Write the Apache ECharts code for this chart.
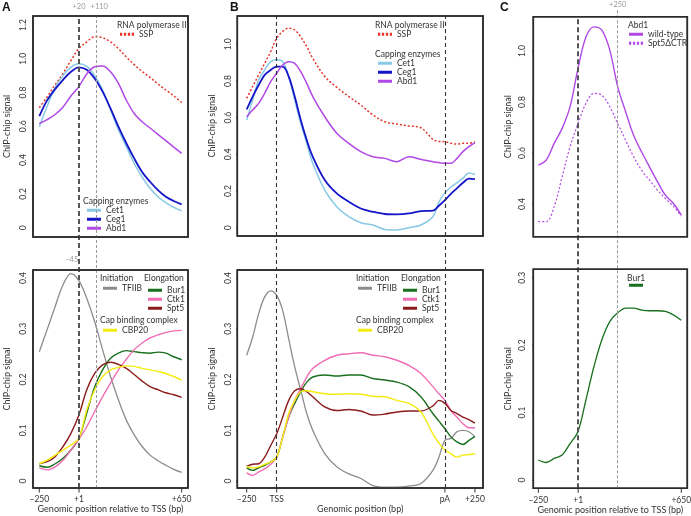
<!DOCTYPE html>
<html><head><meta charset="utf-8">
<script src="https://cdn.jsdelivr.net/npm/echarts@6/dist/echarts.min.js"></script>
<style>html,body{margin:0;padding:0;background:#fff}#c{width:691px;height:516px}</style>
</head><body><div id="c"></div>
<script>
// ---------- DATA ----------
// Panels A and C: position relative to TSS (bp)
const xA = [-250,-200,-150,-100,-50,0,50,100,150,200,250,300,350,400,450,500,550,600,650];
const xC = [-250,-200,-150,-100,-50,0,50,100,150,200,250,300,350,400,450,500,550,600,650];
// Panel B: scaled meta-gene position (TSS = 0, pA = 1400, +250 after pA = 1650)
const xB = [-250,-200,-150,-100,-50,0,50,100,150,200,250,300,400,500,600,700,800,900,1000,1100,1200,1300,1350,1400,1450,1500,1550,1600,1650];

// A top
const sspA  = [0.71,0.775,0.845,0.913,0.99,1.06,1.10,1.13,1.125,1.10,1.06,1.01,0.965,0.925,0.89,0.85,0.815,0.78,0.74];
const cet1A = [0.598,0.72,0.83,0.90,0.95,0.97,0.955,0.90,0.815,0.70,0.58,0.48,0.38,0.30,0.233,0.183,0.148,0.12,0.10];
const ceg1A = [0.66,0.755,0.82,0.875,0.923,0.949,0.935,0.883,0.805,0.706,0.598,0.50,0.41,0.33,0.272,0.223,0.183,0.158,0.138];
const abd1A = [0.617,0.64,0.67,0.715,0.78,0.835,0.91,0.953,0.957,0.923,0.854,0.755,0.676,0.627,0.59,0.552,0.515,0.477,0.44];
// A bottom
const tfiibA = [0.255,0.299,0.344,0.387,0.409,0.395,0.36,0.314,0.259,0.206,0.16,0.12,0.091,0.068,0.051,0.04,0.031,0.023,0.017];
const bur1A  = [0.030,0.027,0.034,0.045,0.061,0.084,0.134,0.186,0.219,0.242,0.252,0.257,0.255,0.253,0.252,0.254,0.252,0.245,0.239];
const ctk1A  = [0.026,0.022,0.028,0.041,0.061,0.082,0.107,0.137,0.166,0.193,0.219,0.24,0.259,0.272,0.282,0.288,0.293,0.296,0.297];
const spt5A  = [0.034,0.038,0.048,0.068,0.094,0.13,0.18,0.212,0.229,0.234,0.23,0.222,0.21,0.197,0.186,0.18,0.174,0.17,0.165];
const cbp20A = [0.034,0.041,0.051,0.061,0.071,0.084,0.14,0.18,0.206,0.219,0.224,0.227,0.226,0.222,0.219,0.216,0.212,0.206,0.199];
// B top
const sspB  = [0.705,0.77,0.833,0.896,0.96,1.033,1.07,1.088,1.078,1.04,0.987,0.924,0.824,0.765,0.715,0.669,0.615,0.578,0.565,0.555,0.545,0.482,0.47,0.469,0.46,0.456,0.46,0.46,0.469];
const cet1B = [0.587,0.696,0.805,0.86,0.905,0.915,0.905,0.824,0.696,0.569,0.46,0.351,0.205,0.115,0.06,0.027,0.015,-0.009,-0.012,0.0,0.015,0.06,0.14,0.19,0.222,0.245,0.27,0.298,0.29];
const ceg1B = [0.645,0.715,0.778,0.833,0.86,0.878,0.878,0.824,0.715,0.587,0.478,0.387,0.26,0.187,0.142,0.105,0.087,0.075,0.073,0.078,0.091,0.093,0.12,0.15,0.185,0.215,0.245,0.268,0.265];
const abd1B = [0.605,0.642,0.678,0.733,0.796,0.842,0.887,0.905,0.896,0.851,0.787,0.715,0.605,0.515,0.46,0.415,0.387,0.378,0.36,0.387,0.373,0.36,0.355,0.351,0.351,0.378,0.415,0.442,0.464];
// B bottom
const tfiibB = [0.248,0.284,0.33,0.363,0.375,0.366,0.336,0.28,0.225,0.179,0.133,0.1,0.054,0.028,0.014,0.005,-0.009,-0.012,-0.012,-0.01,-0.005,0.021,0.047,0.08,0.084,0.097,0.1,0.097,0.087];
const bur1B  = [0.026,0.021,0.026,0.031,0.0375,0.047,0.087,0.126,0.153,0.176,0.195,0.205,0.209,0.207,0.209,0.209,0.202,0.199,0.195,0.186,0.166,0.133,0.118,0.103,0.087,0.077,0.072,0.08,0.088];
const ctk1B  = [0.016,0.011,0.018,0.024,0.033,0.047,0.087,0.126,0.159,0.182,0.205,0.222,0.238,0.248,0.251,0.253,0.248,0.245,0.238,0.228,0.212,0.186,0.172,0.159,0.139,0.126,0.113,0.105,0.105];
const spt5B  = [0.029,0.033,0.034,0.047,0.07,0.093,0.126,0.159,0.178,0.182,0.176,0.166,0.146,0.139,0.141,0.138,0.13,0.132,0.136,0.138,0.138,0.148,0.159,0.153,0.139,0.133,0.126,0.121,0.114];
const cbp20B = [0.028,0.026,0.028,0.033,0.0375,0.047,0.087,0.133,0.159,0.176,0.178,0.176,0.172,0.171,0.172,0.171,0.167,0.166,0.159,0.153,0.136,0.093,0.075,0.061,0.054,0.047,0.051,0.052,0.054];
// C top (Abd1)
const wtC  = [0.553,0.573,0.638,0.697,0.782,0.932,1.055,1.095,1.082,1.004,0.86,0.762,0.67,0.605,0.546,0.488,0.435,0.403,0.357];
const ctrC = [0.331,0.331,0.39,0.507,0.625,0.716,0.795,0.834,0.827,0.782,0.716,0.65,0.586,0.533,0.494,0.455,0.422,0.392,0.353];
// C bottom (Bur1)
const bur1C = [0.0297,0.026,0.032,0.037,0.054,0.072,0.119,0.168,0.208,0.235,0.248,0.255,0.255,0.252,0.251,0.251,0.25,0.245,0.237];

// Tick values and labels
const xTicksAC = [-250, 1, 650];
const xTickLabelsAC = ['\u2013250', '+1', '+650'];
const xTicksB = [-250, 0, 1400, 1650];
const xTickLabelsB = ['\u2013250', 'TSS', 'pA', '+250'];
const yTicksAtop = [0, 0.2, 0.4, 0.6, 0.8, 1.0, 1.2];
const yTicksBtop = [0, 0.2, 0.4, 0.6, 0.8, 1.0];
const yTicksCtop = [0.4, 0.6, 0.8, 1.0];
const yTicksBottom = [0, 0.1, 0.2, 0.3, 0.4];
const yTicksCbottom = [0, 0.1, 0.2, 0.3];

// ---------- STYLE ----------
const FONT = "Lato,'Liberation Sans',Arial,sans-serif";
const FS = 8.5;
const TXT = '#333';
const FRAME = '#2b2b2b';
const COL = {SSP:'#e5352b', Cet1:'#88c9e6', Ceg1:'#1414c8', Abd1:'#b048e6', TFIIB:'#8c8c8c',
             Bur1:'#18701e', Ctk1:'#f06db4', Spt5:'#8c1b1b', CBP20:'#f4ec10'};

const chart = echarts.init(document.getElementById('c'), null, {renderer: 'canvas'});

const grids = [
  {left: 33,    top: 16,    width: 155, height: 221},   // 0 A top
  {left: 33,    top: 270,   width: 155, height: 218},   // 1 A bottom
  {left: 237.3, top: 16,    width: 245.7, height: 220}, // 2 B top
  {left: 237.3, top: 270,   width: 245.7, height: 218}, // 3 B bottom
  {left: 533.3, top: 16.7,  width: 154, height: 220},   // 4 C top
  {left: 533.3, top: 269.3, width: 154, height: 219},   // 5 C bottom
  {left: 33,    top: 16,    width: 155, height: 472},   // 6 A overlay
  {left: 237.3, top: 16,    width: 245.7, height: 472}, // 7 B overlay
  {left: 533.3, top: 10,    width: 154, height: 478.3}  // 8 C overlay
].map((g, i) => Object.assign({show: i < 6, borderColor: FRAME, borderWidth: 1.5,
  outerBoundsMode: 'none', containLabel: false}, g));

const xRange = {A: [-290, 690], B: [-328, 1717], C: [-281.5, 688]};
const yRange = [[-0.055, 1.253], [-0.0138, 0.416], [-0.045, 1.154], [-0.0138, 0.416], [0.272, 1.135], [-0.0123, 0.3125]];
const panelX = [xRange.A, xRange.A, xRange.B, xRange.B, xRange.C, xRange.C];
const panelYTicks = [yTicksAtop, yTicksBottom, yTicksBtop, yTicksBottom, yTicksCtop, yTicksCbottom];
const panelXTicks = [null, xTicksAC, null, xTicksB, null, xTicksAC];

function xAxisDef(gi, r, ticks, labels, name) {
  const show = !!ticks;
  return {
    type: 'value', gridIndex: gi, min: r[0], max: r[1], position: 'bottom',
    axisLine: {show: false, onZero: false}, splitLine: {show: false}, axisTick: {show: false},
    axisLabel: show ? {show: true, customValues: ticks, margin: 7, fontSize: FS, color: TXT, fontFamily: FONT,
      formatter: v => { const k = ticks.indexOf(v); return k >= 0 ? labels[k] : ''; }} : {show: false},
    name: name || '', nameLocation: 'middle', nameGap: 17,
    nameTextStyle: {fontSize: 9, color: TXT, fontFamily: FONT}
  };
}
function yAxisDef(gi, margin) {
  return {
    type: 'value', gridIndex: gi, min: yRange[gi][0], max: yRange[gi][1], position: 'left',
    axisLine: {show: false, onZero: false}, splitLine: {show: false}, axisTick: {show: false},
    axisLabel: {show: true, customValues: panelYTicks[gi], rotate: 90, margin: margin, fontSize: FS, color: TXT, fontFamily: FONT,
      formatter: v => v === 0 ? '0' : v.toFixed(1)},
    name: 'ChIP-chip signal', nameLocation: 'middle', nameRotate: 90, nameGap: 21,
    nameTextStyle: {fontSize: 9, color: TXT, fontFamily: FONT}
  };
}
function hiddenY(gi) {
  return {type: 'value', gridIndex: gi, min: 0, max: 1, show: false, splitLine: {show: false}, axisLine: {onZero: false}};
}

const xAxes = [
  xAxisDef(0, xRange.A), xAxisDef(1, xRange.A, xTicksAC, xTickLabelsAC, 'Genomic position relative to TSS (bp)'),
  xAxisDef(2, xRange.B), xAxisDef(3, xRange.B, xTicksB, xTickLabelsB, 'Genomic position (bp)'),
  xAxisDef(4, xRange.C), xAxisDef(5, xRange.C, xTicksAC, xTickLabelsAC, 'Genomic position relative to TSS (bp)'),
  xAxisDef(6, xRange.A), xAxisDef(7, xRange.B), xAxisDef(8, xRange.C)
];
const yAxes = [
  yAxisDef(0, 5), yAxisDef(1, 5), yAxisDef(2, 5), yAxisDef(3, 5), yAxisDef(4, 7), yAxisDef(5, 7),
  hiddenY(6), hiddenY(7), hiddenY(8)
];

const pairs = (xs, ys) => xs.map((x, i) => [x, ys[i]]);
function line(name, gi, xs, ys, color, width, dash, extra) {
  return Object.assign({
    type: 'line', name: name, xAxisIndex: gi, yAxisIndex: gi, data: pairs(xs, ys),
    showSymbol: false, symbol: 'none', smooth: 0.35, silent: true, animation: false,
    lineStyle: {color: color, width: width, type: dash || 'solid'}, itemStyle: {color: color}
  }, extra || {});
}
const DOT = [2, 2];

const series = [
  // A top
  line('SSP', 0, xA, sspA, COL.SSP, 1.5, DOT),
  line('Cet1', 0, xA, cet1A, COL.Cet1, 1.5),
  line('Ceg1', 0, xA, ceg1A, COL.Ceg1, 1.8),
  line('Abd1', 0, xA, abd1A, COL.Abd1, 1.5),
  // A bottom
  line('TFIIB', 1, xA, tfiibA, COL.TFIIB, 1.3, null, {
    markPoint: {silent: true, symbol: 'circle', symbolSize: 0, animation: false,
      label: {show: true, position: 'top', distance: 9, formatter: '\u221245', color: '#999', fontSize: 7.5, fontFamily: FONT},
      data: [{coord: [-45, 0.41]}]}
  }),
  line('Bur1', 1, xA, bur1A, COL.Bur1, 1.4),
  line('Ctk1', 1, xA, ctk1A, COL.Ctk1, 1.4),
  line('Spt5', 1, xA, spt5A, COL.Spt5, 1.4),
  line('CBP20', 1, xA, cbp20A, COL.CBP20, 1.4),
  // B top
  line('SSP', 2, xB, sspB, COL.SSP, 1.5, DOT),
  line('Cet1', 2, xB, cet1B, COL.Cet1, 1.5),
  line('Ceg1', 2, xB, ceg1B, COL.Ceg1, 1.8),
  line('Abd1', 2, xB, abd1B, COL.Abd1, 1.5),
  // B bottom
  line('TFIIB', 3, xB, tfiibB, COL.TFIIB, 1.3),
  line('Bur1', 3, xB, bur1B, COL.Bur1, 1.4),
  line('Ctk1', 3, xB, ctk1B, COL.Ctk1, 1.4),
  line('Spt5', 3, xB, spt5B, COL.Spt5, 1.4),
  line('CBP20', 3, xB, cbp20B, COL.CBP20, 1.4),
  // C top
  line('wild-type', 4, xC, wtC, COL.Abd1, 1.4),
  line('Spt5\u0394CTR', 4, xC, ctrC, COL.Abd1, 1.2, DOT),
  // C bottom
  line('Bur1', 5, xC, bur1C, COL.Bur1, 1.3),
];

// Panel boxes drawn as unclipped line paths along each panel's axis extents
const frameSeries = (gi) => {
  const x0 = panelX[gi][0], x1 = panelX[gi][1], y0 = yRange[gi][0], y1 = yRange[gi][1];
  return {type: 'line', xAxisIndex: gi, yAxisIndex: gi, clip: false, silent: true, animation: false, z: 10,
    showSymbol: false, symbol: 'none', smooth: false,
    lineStyle: {color: FRAME, width: 1.6, cap: 'square', join: 'miter'},
    data: [[x0, y0], [x1, y0], [x1, y1], [x0, y1], [x0, y0]]};
};
for (let gi = 0; gi < 6; gi++) series.push(frameSeries(gi));

// Overlay guide lines
function guide(gi, lines, labels) {
  return {type: 'line', xAxisIndex: gi, yAxisIndex: gi, data: [], silent: true, animation: false, z: 5,
    markLine: {silent: true, symbol: 'none', animation: false, data: lines},
    markPoint: {silent: true, symbol: 'circle', symbolSize: 0, animation: false, data: labels || []}};
}
const thick = {color: '#555', width: 2, type: [5, 3]};
const thin = {color: '#999', width: 1, type: [3, 2]};
const mid = {color: '#333', width: 1.1, type: [4, 3]};
const topLbl = (t, dist, dx) => ({show: true, position: 'top', distance: dist, offset: [dx, 0], formatter: t,
  color: '#999', fontSize: 7.5, fontFamily: FONT});
series.push(guide(6, [
  {xAxis: 1, lineStyle: thick, label: {show: false}},
  {xAxis: 110, lineStyle: thin, label: {show: false}}
], [
  {coord: [1, 0.9999], label: topLbl('+20', 5, 0)},
  {coord: [110, 0.9999], label: topLbl('+110', 5, 3)}
]));
series.push(guide(7, [
  {xAxis: 0, lineStyle: mid, label: {show: false}},
  {xAxis: 1400, lineStyle: mid, label: {show: false}}
]));
series.push(guide(8, [
  [{coord: [1, 0], lineStyle: thick, label: {show: false}}, {coord: [1, 0.9874]}],
  {xAxis: 250, lineStyle: thin, label: {show: false}}
], [
  {coord: [250, 0.9999], label: topLbl('+250', 1, 0)}
]));

// Titles: panel letters and legend group headers
const hdr = (t, l, tp) => ({text: t, left: l, top: tp, padding: 0,
  textStyle: {fontSize: FS, fontWeight: 'normal', color: TXT, fontFamily: FONT, lineHeight: 10}});
const letter = (t, l) => ({text: t, left: l, top: 2, padding: 0,
  textStyle: {fontSize: 12, fontWeight: 'bold', color: '#111', fontFamily: "'Liberation Sans',Arial,sans-serif"}});
const titles = [
  letter('A', 2), letter('B', 230), letter('C', 500),
  hdr('RNA polymerase II', 117, 20), hdr('Capping enzymes', 83, 196),
  hdr('Initiation', 100, 273), hdr('Elongation', 144, 273), hdr('Cap binding complex', 100, 315.7),
  hdr('RNA polymerase II', 375, 20), hdr('Capping enzymes', 375, 49),
  hdr('Initiation', 356, 273), hdr('Elongation', 401, 273), hdr('Cap binding complex', 356, 315.7),
  hdr('Abd1', 628, 20), hdr('Bur1', 627, 273)
];

const DOTTED_ICON = 'path://M0 0h2v2H0z M3.5 0h2v2h-2z M7 0h2v2H7z M10.5 0h2v2h-2z';
const item = n => ({name: n, icon: (n === 'SSP' || n === 'Spt5\u0394CTR') ? DOTTED_ICON : 'rect'});
const leg = (names, l, centerY, noText) => ({
  data: names.map(item), left: l, top: centerY - 4.25, orient: 'vertical', padding: 0, itemGap: 0,
  itemWidth: 14, itemHeight: 3, selectedMode: false, symbolKeepAspect: false,
  textStyle: {fontSize: FS, color: TXT, fontFamily: FONT, lineHeight: 8.5, padding: 0},
  formatter: noText ? () => '' : (n => n)
});
const legends = [
  leg(['SSP'], 120, 34), leg(['Cet1', 'Ceg1', 'Abd1'], 87, 210),
  leg(['TFIIB'], 103, 288), leg(['Bur1', 'Ctk1', 'Spt5'], 148, 290), leg(['CBP20'], 103, 330),
  leg(['SSP'], 378, 34), leg(['Cet1', 'Ceg1', 'Abd1'], 378, 63),
  leg(['TFIIB'], 358, 288), leg(['Bur1', 'Ctk1', 'Spt5'], 403, 290), leg(['CBP20'], 358, 330),
  leg(['wild-type', 'Spt5\u0394CTR'], 629, 34), leg(['Bur1'], 629, 288, true)
];

chart.setOption({
  backgroundColor: '#fff',
  animation: false,
  textStyle: {fontFamily: FONT},
  title: titles,
  legend: legends,
  grid: grids,
  xAxis: xAxes,
  yAxis: yAxes,
  series: series
});

// Tick marks: short unclipped line paths just outside each panel, located through the axes' own scales
const tickSeries = [];
for (let gi = 0; gi < 6; gi++) {
  const x0 = panelX[gi][0], y0 = yRange[gi][0];
  const corner = chart.convertToPixel({gridIndex: gi}, [x0, y0]);
  const outer = chart.convertFromPixel({gridIndex: gi}, [corner[0] - 4.5, corner[1] + 4.5]);
  const tickStyle = {type: 'line', xAxisIndex: gi, yAxisIndex: gi, clip: false, silent: true, animation: false, z: 10,
    showSymbol: false, symbol: 'none', smooth: false, lineStyle: {color: '#333', width: 1}};
  panelYTicks[gi].forEach(v => tickSeries.push(Object.assign({data: [[outer[0], v], [x0, v]]}, tickStyle)));
  if (panelXTicks[gi]) panelXTicks[gi].forEach(v => tickSeries.push(Object.assign({data: [[v, y0], [v, outer[1]]]}, tickStyle)));
}
chart.setOption({series: series.concat(tickSeries)});
</script></body></html>
